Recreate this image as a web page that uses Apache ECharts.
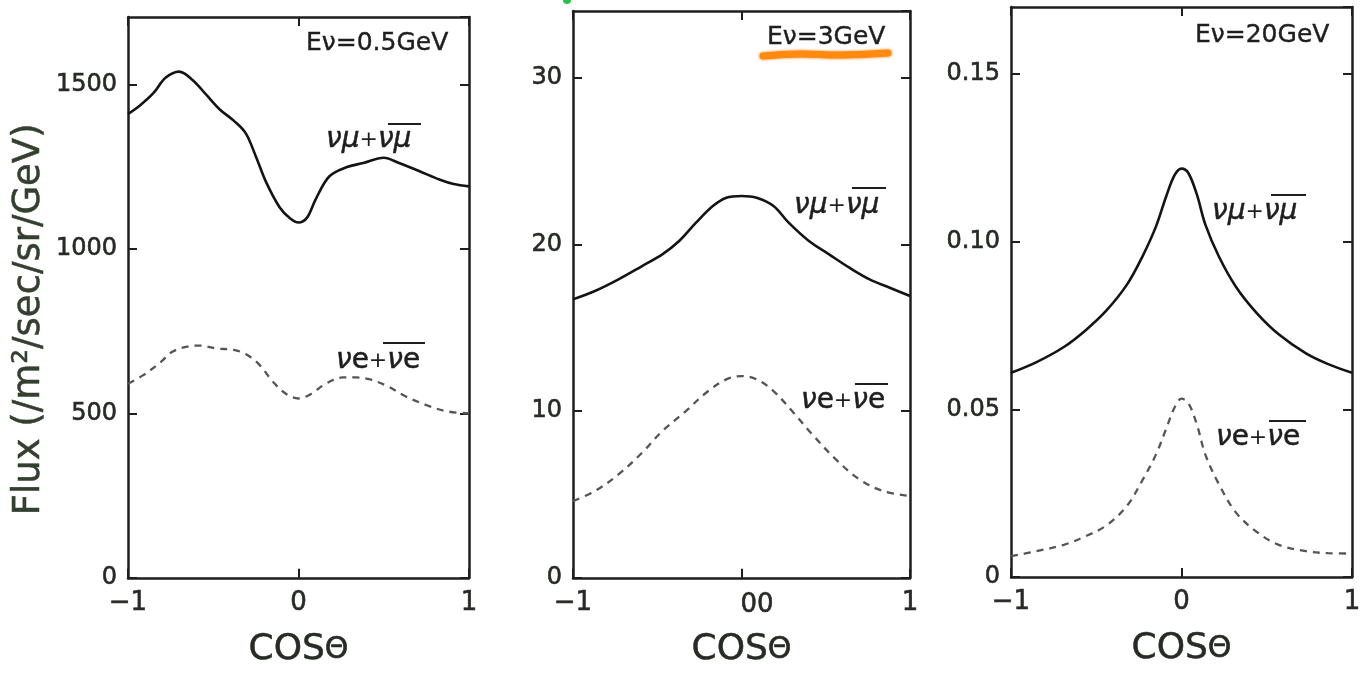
<!DOCTYPE html>
<html>
<head>
<meta charset="utf-8">
<script src="https://cdn.jsdelivr.net/npm/echarts@6/dist/echarts.min.js"></script>
<style>
  html, body { margin: 0; padding: 0; background: #ffffff; }
  #chart { width: 1366px; height: 673px; }
</style>
</head>
<body>
<div id="chart"></div>
<script>
// Atmospheric neutrino flux vs. zenith angle, three neutrino energies.

// Eν = 0.5 GeV
const cos05Mu  = [-1.00, -0.93, -0.85, -0.78, -0.70, -0.62, -0.54, -0.46, -0.38, -0.31, -0.25, -0.19, -0.11, -0.05, 0.00, 0.05, 0.10, 0.18, 0.28, 0.38, 0.50, 0.59, 0.71, 0.83, 0.91, 1.00];
const flux05Mu = [1410, 1436, 1474, 1520, 1539, 1513, 1468, 1423, 1390, 1352, 1281, 1203, 1126, 1093, 1080, 1095, 1150, 1220, 1248, 1261, 1277, 1261, 1236, 1210, 1197, 1190];
const cos05E   = [-1.00, -0.91, -0.81, -0.74, -0.66, -0.58, -0.48, -0.38, -0.31, -0.23, -0.15, -0.07, 0.00, 0.07, 0.16, 0.26, 0.34, 0.42, 0.52, 0.63, 0.75, 0.87, 1.00];
const flux05E  = [590, 616, 655, 687, 702, 706, 697, 693, 680, 648, 596, 558, 545, 558, 590, 609, 609, 603, 583, 551, 525, 506, 500];

// Eν = 3 GeV
const cos3Mu  = [-1.00, -0.87, -0.73, -0.59, -0.47, -0.37, -0.27, -0.17, -0.09, 0.00, 0.09, 0.19, 0.28, 0.40, 0.52, 0.64, 0.76, 0.88, 1.00];
const flux3Mu = [16.7, 17.2, 17.9, 18.7, 19.4, 20.2, 21.3, 22.3, 22.8, 22.9, 22.8, 22.3, 21.3, 20.2, 19.4, 18.6, 17.9, 17.4, 16.9];
const cos3E   = [-1.00, -0.87, -0.73, -0.59, -0.47, -0.33, -0.21, -0.09, 0.00, 0.09, 0.19, 0.30, 0.42, 0.56, 0.70, 0.84, 1.00];
const flux3E  = [4.6, 5.2, 6.2, 7.5, 8.8, 10.0, 11.1, 11.9, 12.1, 11.9, 11.2, 10.0, 8.6, 7.1, 5.9, 5.2, 4.9];

// Eν = 20 GeV
const cos20    = [-1.00, -0.85, -0.69, -0.56, -0.44, -0.32, -0.23, -0.15, -0.09, -0.04, 0.00, 0.04, 0.09, 0.14, 0.22, 0.32, 0.44, 0.57, 0.73, 0.86, 1.00];
const flux20Mu = [0.0609, 0.0641, 0.0686, 0.0737, 0.0795, 0.0872, 0.0955, 0.1045, 0.1135, 0.1199, 0.1218, 0.1205, 0.1141, 0.1051, 0.0955, 0.0865, 0.0788, 0.0724, 0.0667, 0.0635, 0.0609];
const flux20E  = [0.0062, 0.0077, 0.0096, 0.0122, 0.0154, 0.0212, 0.0288, 0.0365, 0.0442, 0.0506, 0.0532, 0.0519, 0.0455, 0.0365, 0.0276, 0.0192, 0.0135, 0.0096, 0.0077, 0.0071, 0.0070];

// Axis ranges and tick steps
const yMax      = [1705, 34, 0.17];
const yStep     = [500, 10, 0.05];
const energyTxt = ['Eν=0.5GeV', 'Eν=3GeV', 'Eν=20GeV'];
const yTitle    = 'Flux (/m²/sec/sr/GeV)';

const INK = '#1c1f1b';
const TXT = '#272b25';
const FONT = '"DejaVu Sans", "Liberation Sans", sans-serif';

const grids = [
  { left: 128, top: 17, width: 341, height: 568 },
  { left: 573, top: 11, width: 337, height: 568 },
  { left: 1011, top: 7, width: 341, height: 570 }
];

function pairs(xs, ys) { return xs.map((x, i) => [x, ys[i]]); }

const xAxes = [], yAxes = [], series = [];
grids.forEach((g, i) => {
  const tick = { show: true, inside: true, length: 9, lineStyle: { color: INK, width: 2 } };
  const line = { show: true, onZero: false, lineStyle: { color: INK, width: 2.5 } };
  // bottom axis with labels (the middle panel's centre label is set separately)
  xAxes.push({
    type: 'value', gridIndex: i, position: 'bottom', min: -1, max: 1, interval: 1,
    axisLine: line, axisTick: tick, splitLine: { show: false },
    axisLabel: {
      color: TXT, fontFamily: FONT, fontSize: 26, margin: 12,
      textBorderColor: TXT, textBorderWidth: 0.6,
      formatter: v => v === -1 ? '−1' : (v === 0 ? (i === 1 ? '' : '0') : String(v))
    },
    name: '{c|COS}{t|Θ}', nameLocation: 'middle', nameGap: 54,
    nameTextStyle: {
      rich: {
        c: { fontFamily: FONT, fontSize: 36, color: TXT, textBorderColor: TXT, textBorderWidth: 0.5 },
        t: { fontFamily: FONT, fontSize: 30, color: TXT, textBorderColor: TXT, textBorderWidth: 0.5 }
      }
    }
  });
  // top mirror axis
  xAxes.push({
    type: 'value', gridIndex: i, position: 'top', min: -1, max: 1, interval: 1,
    axisLine: line, axisTick: tick, axisLabel: { show: false }, splitLine: { show: false }
  });
  const yLeft = {
    type: 'value', gridIndex: i, position: 'left', min: 0, max: yMax[i], interval: yStep[i],
    axisLine: line, axisTick: tick, splitLine: { show: false },
    axisLabel: {
      color: TXT, fontFamily: FONT, fontSize: 24, margin: 11, showMaxLabel: false,
      textBorderColor: TXT, textBorderWidth: 0.6,
      formatter: v => {
        if (Math.abs(v / yStep[i] - Math.round(v / yStep[i])) > 1e-6) return '';
        if (v === 0) return '0';
        return i === 2 ? v.toFixed(2) : String(Math.round(v));
      }
    }
  };
  if (i === 0) {
    yLeft.name = yTitle;
    yLeft.nameLocation = 'middle';
    yLeft.nameGap = 80;
    yLeft.nameTextStyle = {
      fontFamily: FONT, fontSize: 37, color: '#34402f',
      textBorderColor: '#34402f', textBorderWidth: 0.5, padding: [0, 44, 0, 0]
    };
  }
  yAxes.push(yLeft);
  yAxes.push({
    type: 'value', gridIndex: i, position: 'right', min: 0, max: yMax[i], interval: yStep[i],
    axisLine: line, axisTick: tick, axisLabel: { show: false }, splitLine: { show: false }
  });
});

const sets = [
  [pairs(cos05Mu, flux05Mu), pairs(cos05E, flux05E)],
  [pairs(cos3Mu, flux3Mu), pairs(cos3E, flux3E)],
  [pairs(cos20, flux20Mu), pairs(cos20, flux20E)]
];
sets.forEach((s, i) => {
  series.push({
    type: 'line', xAxisIndex: 2 * i, yAxisIndex: 2 * i, data: s[0],
    smooth: 0.35, symbol: 'none', silent: true,
    lineStyle: { color: '#141414', width: 2.6 }
  });
  series.push({
    type: 'line', xAxisIndex: 2 * i, yAxisIndex: 2 * i, data: s[1],
    smooth: 0.35, symbol: 'none', silent: true,
    lineStyle: { color: '#555555', width: 2.3, type: [7, 6] }
  });
});

// Curve labels (νμ+νμ / νe+νe with bar on the antineutrino) and energy tags
const richLbl = {
  i: { fontFamily: FONT, fontStyle: 'italic', fontSize: 28, fill: '#1e1e1e', stroke: '#1e1e1e', lineWidth: 0.5 },
  n: { fontFamily: FONT, fontSize: 28, fill: '#1e1e1e', stroke: '#1e1e1e', lineWidth: 0.5 },
  p: { fontFamily: FONT, fontSize: 22, fill: '#1e1e1e' }
};
function curveLabel(x, y, kind) {
  const txt = kind === 'mu' ? '{i|νμ}{p|+}{i|νμ}' : '{i|ν}{n|e}{p|+}{i|ν}{n|e}';
  return { type: 'text', x: x, y: y, z: 10, style: { text: txt, rich: richLbl, verticalAlign: 'middle', align: 'left' } };
}
function bar(x1, x2, y) {
  return { type: 'line', z: 10, shape: { x1: x1, y1: y, x2: x2, y2: y }, style: { stroke: '#1e1e1e', lineWidth: 2 } };
}
function energyLabel(x, y, t) {
  return { type: 'text', x: x, y: y, z: 10, style: { text: t, font: '25px ' + FONT, fill: '#1e1e1e', stroke: '#1e1e1e', lineWidth: 0.4, verticalAlign: 'middle' } };
}

const graphics = [
  // highlighter stroke under the 3 GeV tag
  { type: 'polyline', z: 5, shape: { points: [[763, 56], [800, 54], [840, 55], [888, 53]], smooth: 0.4 },
    style: { stroke: '#ff8a10', lineWidth: 7, lineCap: 'round', shadowBlur: 3, shadowColor: '#ff7a00' } },
  { type: 'circle', z: 5, shape: { cx: 567, cy: 0, r: 4 }, style: { fill: '#27c24a' } },

  // centre tick label of the 3 GeV panel, printed doubled
  { type: 'text', x: 757, y: 605, z: 10,
    style: { text: '00', font: '26px ' + FONT, fill: TXT, stroke: TXT, lineWidth: 0.6, align: 'center', verticalAlign: 'middle' } },

  energyLabel(306, 43, energyTxt[0]),
  energyLabel(767, 37, energyTxt[1]),
  energyLabel(1195, 35, energyTxt[2]),

  curveLabel(326, 140, 'mu'), bar(388, 421, 124),
  curveLabel(336, 361, 'e'),  bar(383, 425, 343),
  curveLabel(794, 206, 'mu'), bar(852, 886, 188),
  curveLabel(801, 401, 'e'),  bar(855, 888, 384),
  curveLabel(1212, 212, 'mu'), bar(1271, 1306, 195),
  curveLabel(1216, 438, 'e'),  bar(1269, 1306, 421)
];

const chart = echarts.init(document.getElementById('chart'), null, { renderer: 'canvas' });
chart.setOption({
  animation: false,
  backgroundColor: '#ffffff',
  grid: grids,
  xAxis: xAxes,
  yAxis: yAxes,
  series: series,
  graphic: graphics
});
</script>
</body>
</html>
